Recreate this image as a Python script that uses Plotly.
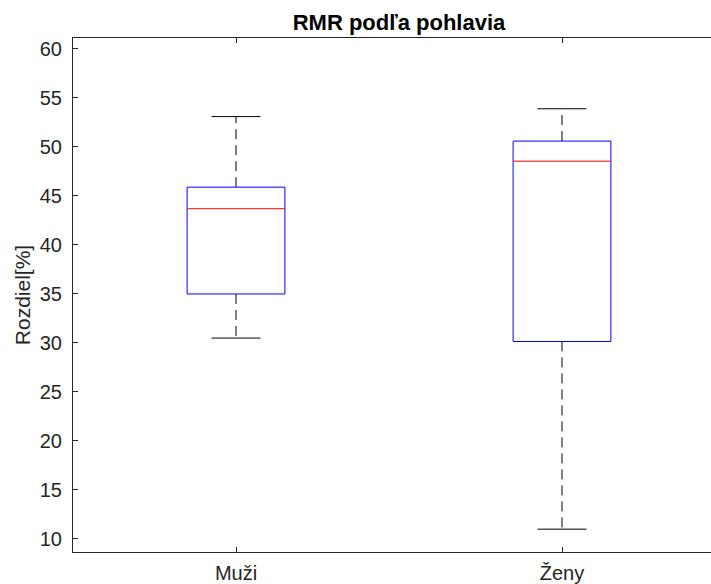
import plotly.graph_objects as go

# Data
categories = ["Muži", "Ženy"]
q1_vals = [35.0, 30.15]
median_vals = [43.7, 48.55]
q3_vals = [45.9, 50.6]
lower_whisker = [30.5, 11.0]
upper_whisker = [53.1, 53.9]
y_ticks = [10, 15, 20, 25, 30, 35, 40, 45, 50, 55, 60]

title_text = "RMR podľa pohlavia"
y_title = "Rozdiel[%]"

BOX_HALF = 0.15
CAP_HALF = 0.075
FONT = "Liberation Sans, Arial, Helvetica, sans-serif"
AXC = "#262626"

fig = go.Figure()
for i, cat in enumerate(categories):
    xc = i + 1
    # whiskers (dashed)
    fig.add_trace(go.Scatter(
        x=[xc, xc, None, xc, xc],
        y=[q3_vals[i], upper_whisker[i], None, q1_vals[i], lower_whisker[i]],
        mode="lines", line=dict(color="#000000", width=1, dash="10px,6px"),
        hoverinfo="skip", showlegend=False))
    # caps
    fig.add_trace(go.Scatter(
        x=[xc - CAP_HALF, xc + CAP_HALF, None, xc - CAP_HALF, xc + CAP_HALF],
        y=[upper_whisker[i], upper_whisker[i], None, lower_whisker[i], lower_whisker[i]],
        mode="lines", line=dict(color="#000000", width=1),
        hoverinfo="skip", showlegend=False))
    # box
    fig.add_trace(go.Scatter(
        x=[xc - BOX_HALF, xc + BOX_HALF, xc + BOX_HALF, xc - BOX_HALF, xc - BOX_HALF],
        y=[q1_vals[i], q1_vals[i], q3_vals[i], q3_vals[i], q1_vals[i]],
        mode="lines", line=dict(color="rgb(0,0,255)", width=1),
        hoverinfo="skip", showlegend=False))
    # median
    fig.add_trace(go.Scatter(
        x=[xc - BOX_HALF, xc + BOX_HALF],
        y=[median_vals[i], median_vals[i]],
        mode="lines", line=dict(color="rgb(255,0,0)", width=1),
        hoverinfo="skip", showlegend=False))

fig.update_layout(
    width=711, height=584,
    margin=dict(l=73, r=0, t=38, b=32, autoexpand=False),
    paper_bgcolor="white", plot_bgcolor="white",
    font=dict(family=FONT, size=20, color=AXC),
    title=dict(text="<b>" + title_text + "</b>", x=399 / 711, xanchor="center",
               y=1 - 22 / 584, yanchor="middle", yref="container",
               font=dict(family=FONT, size=22, color="#000000")),
    xaxis=dict(range=[0.5, 2 + 149 / 326], tickmode="array", tickvals=[1, 2],
               ticktext=categories, showgrid=False, zeroline=False, automargin=False,
               showline=True, linecolor=AXC, linewidth=1, mirror="ticks",
               ticks="inside", ticklen=5, tickcolor=AXC, tickwidth=1,
               ticklabelstandoff=3,
               tickfont=dict(family=FONT, size=20, color=AXC)),
    yaxis=dict(range=[8.67, 61.12], tickmode="array", tickvals=y_ticks,
               showgrid=False, zeroline=False, automargin=False,
               showline=True, linecolor=AXC, linewidth=1, mirror=False,
               ticks="inside", ticklen=5, tickcolor=AXC, tickwidth=1,
               ticklabelstandoff=6,
               title=dict(text=y_title, font=dict(family=FONT, size=21, color=AXC), standoff=3),
               tickfont=dict(family=FONT, size=20, color=AXC)),
)

fig.write_html(
    "out.html",
    config={"displayModeBar": False, "staticPlot": True},
    post_script="document.body.style.margin='0';document.body.style.overflow='hidden';",
)
